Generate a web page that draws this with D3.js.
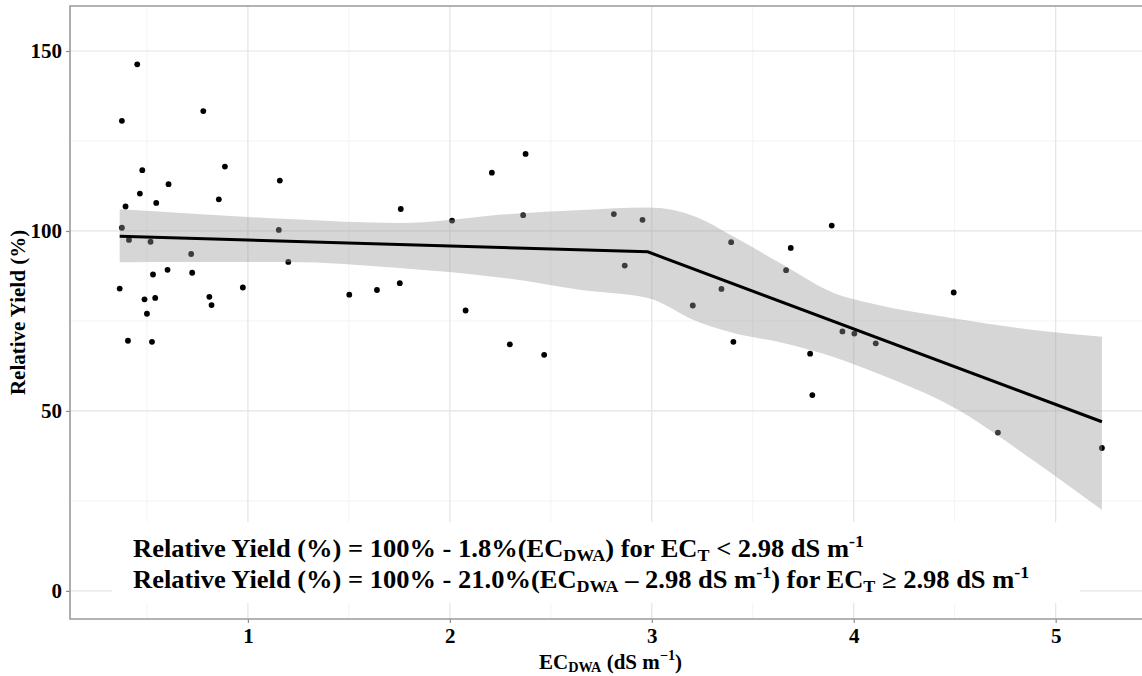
<!DOCTYPE html>
<html>
<head>
<meta charset="utf-8">
<script src="https://cdn.jsdelivr.net/npm/d3@7"></script>
<style>
  html, body { margin: 0; padding: 0; background: #ffffff; }
  svg { display: block; }
  text { font-family: "Liberation Serif", "Times New Roman", serif; font-weight: bold; fill: #000; }
</style>
</head>
<body>
<svg id="chart" width="1142" height="676"></svg>
<script>
// Observed salinity (EC_DWA, dS m-1) and relative yield (%)
const ecDWA = [
  0.452, 0.376, 0.779, 0.477, 0.886, 0.607, 1.158, 0.465, 0.394, 0.546,
  0.856, 0.376, 0.411, 0.518, 1.153, 0.719, 1.200, 0.530, 0.602, 0.724,
  0.365, 0.975, 0.488, 0.541, 0.809, 0.820, 0.500, 0.406, 0.525, 1.502,
  1.639, 1.752, 1.757, 2.011, 2.078, 2.208, 2.375, 2.363, 2.297, 2.467,
  2.812, 2.954, 2.866, 3.393, 3.345, 3.203, 3.404, 3.688, 3.665, 3.891,
  3.784, 3.944, 4.003, 4.109, 3.795, 4.495, 4.714, 5.229
];
const relYield = [
  146.3, 130.6, 133.3, 116.9, 117.9, 113.0, 114.0, 110.4, 106.8, 107.8,
  108.8, 100.9,  97.5,  97.0, 100.3,  93.6,  91.4,  87.9,  89.2,  88.4,
   84.0,  84.3,  81.0,  81.4,  81.7,  79.4,  77.0,  69.5,  69.2,  82.3,
   83.6,  85.5, 106.1, 102.9,  77.9, 116.2, 121.4, 104.4,  68.5,  65.6,
  104.7, 103.1,  90.4,  96.9,  83.9,  79.3,  69.2,  95.3,  89.1, 101.5,
   65.9,  72.1,  71.5,  68.8,  54.4,  82.9,  44.0,  39.7
];

// Segmented regression fit (breakpoint at 2.98 dS m-1)
const fitX = [0.365, 2.98, 5.229];
const fitY = [98.5, 94.2, 47.0];

// 95% confidence band of the fit
const bandX     = [0.365, 0.75, 1.2, 1.75, 2.3, 2.65, 2.98, 3.22, 3.4, 3.65, 3.9, 4.1, 4.5, 4.9, 5.229];
const bandUpper = [106.0, 104.7, 103.3, 102.2, 104.7, 105.8, 106.5, 103.9, 98.6, 90.6, 82.8, 79.7, 75.7, 72.4, 70.6];
const bandLower = [ 91.3,  91.4,  91.4,  89.7,  86.7,  83.6,  81.4,  75.0, 71.7, 68.9, 65.0, 60.8, 50.8, 35.8, 22.5];

const xTicks = [1, 2, 3, 4, 5];
const yTicks = [0, 50, 100, 150];
const xMinor = [0.5, 1.5, 2.5, 3.5, 4.5];
const yMinor = [25, 75, 125];

const svg = d3.select("#chart");

const panel = { left: 70, right: 1151, top: 6, bottom: 619 };

const x = d3.scaleLinear().domain([0.119, 5.472]).range([panel.left, panel.right]);
const y = d3.scaleLinear().domain([-7.8, 162.5]).range([panel.bottom, panel.top]);

// grid
const grid = svg.append("g");
grid.selectAll(".vminor").data(xMinor).join("line")
  .attr("x1", d => x(d)).attr("x2", d => x(d))
  .attr("y1", panel.top).attr("y2", panel.bottom)
  .attr("stroke", "#f3f3f3").attr("stroke-width", 1);
grid.selectAll(".hminor").data(yMinor).join("line")
  .attr("y1", d => y(d)).attr("y2", d => y(d))
  .attr("x1", panel.left).attr("x2", panel.right)
  .attr("stroke", "#f3f3f3").attr("stroke-width", 1);
grid.selectAll(".vmajor").data(xTicks).join("line")
  .attr("x1", d => x(d)).attr("x2", d => x(d))
  .attr("y1", panel.top).attr("y2", panel.bottom)
  .attr("stroke", "#e4e4e4").attr("stroke-width", 1.2);
grid.selectAll(".hmajor").data(yTicks).join("line")
  .attr("y1", d => y(d)).attr("y2", d => y(d))
  .attr("x1", panel.left).attr("x2", panel.right)
  .attr("stroke", "#e4e4e4").attr("stroke-width", 1.2);

// points
svg.append("g").selectAll("circle").data(ecDWA.map((d, i) => [d, relYield[i]])).join("circle")
  .attr("cx", d => x(d[0])).attr("cy", d => y(d[1])).attr("r", 2.9)
  .attr("fill", "#000");

// confidence band
const band = bandX.map((d, i) => ({ x: d, lo: bandLower[i], hi: bandUpper[i] }));
svg.append("path").datum(band)
  .attr("d", d3.area().x(d => x(d.x)).y0(d => y(d.lo)).y1(d => y(d.hi)).curve(d3.curveMonotoneX))
  .attr("fill", "#999999").attr("fill-opacity", 0.4);

// fitted line
svg.append("path").datum(fitX.map((d, i) => [d, fitY[i]]))
  .attr("d", d3.line().x(d => x(d[0])).y(d => y(d[1])))
  .attr("fill", "none").attr("stroke", "#000").attr("stroke-width", 3);

// axes
const axisColor = "#8c8c8c";
const xAxis = svg.append("g").attr("transform", `translate(0,${panel.bottom})`)
  .call(d3.axisBottom(x).tickValues(xTicks).tickFormat(d3.format("d")).tickSize(4).tickPadding(5));
const yAxis = svg.append("g").attr("transform", `translate(${panel.left},0)`)
  .call(d3.axisLeft(y).tickValues(yTicks).tickFormat(d3.format("d")).tickSize(4).tickPadding(4));
[xAxis, yAxis].forEach(a => {
  a.select(".domain").remove();
  a.selectAll(".tick line").attr("stroke", axisColor).attr("stroke-width", 1.2);
  a.selectAll(".tick text").attr("font-family", "Liberation Serif").attr("font-weight", "bold")
    .attr("font-size", 21).attr("fill", "#000");
});

// panel border (top, left, bottom)
svg.append("path")
  .attr("d", `M${panel.right},${panel.top}H${panel.left}V${panel.bottom}H${panel.right}`)
  .attr("fill", "none").attr("stroke", "#9a9a9a").attr("stroke-width", 1.6);

// rich text helper: segments with optional sub/superscript
function rich(sel, segs, size, subShift, supShift) {
  const small = size * 0.68;
  let shift = 0;
  segs.forEach(s => {
    const target = s.s === "sub" ? size * subShift : s.s === "sup" ? -size * supShift : 0;
    sel.append("tspan")
      .attr("dy", target - shift)
      .attr("font-size", s.s ? small : size)
      .text(s.t);
    shift = target;
  });
}

// axis titles
const xt = svg.append("text").attr("x", x((0.119 + 5.472) / 2)).attr("y", 669)
  .attr("text-anchor", "middle").attr("font-size", 21);
rich(xt, [{ t: "EC" }, { t: "DWA", s: "sub" }, { t: " (dS m" }, { t: "\u22121", s: "sup" }, { t: ")" }], 21, 0.12, 0.42);

svg.append("text")
  .attr("transform", `translate(25,${(panel.top + panel.bottom) / 2}) rotate(-90)`)
  .attr("text-anchor", "middle").attr("font-size", 21)
  .text("Relative Yield (%)");

// equation box
svg.append("rect").attr("x", 112).attr("y", 522).attr("width", 968).attr("height", 81)
  .attr("fill", "#fff");

const eqSize = 25;
const eq1 = svg.append("text").attr("x", 0).attr("y", 0).attr("font-size", eqSize)
  .attr("transform", "translate(133,557) scale(1.06,1)");
rich(eq1, [
  { t: "Relative Yield (%) = 100% - 1.8%(EC" }, { t: "DWA", s: "sub" },
  { t: ") for EC" }, { t: "T", s: "sub" }, { t: " < 2.98 dS m" }, { t: "-1", s: "sup" }
], eqSize, 0.17, 0.42);
const eq2 = svg.append("text").attr("x", 0).attr("y", 0).attr("font-size", eqSize)
  .attr("transform", "translate(133,588) scale(1.06,1)");
rich(eq2, [
  { t: "Relative Yield (%) = 100% - 21.0%(EC" }, { t: "DWA", s: "sub" },
  { t: " \u2013 2.98 dS m" }, { t: "-1", s: "sup" }, { t: ") for EC" }, { t: "T", s: "sub" },
  { t: " \u2265 2.98 dS m" }, { t: "-1", s: "sup" }
], eqSize, 0.17, 0.42);
</script>
</body>
</html>
